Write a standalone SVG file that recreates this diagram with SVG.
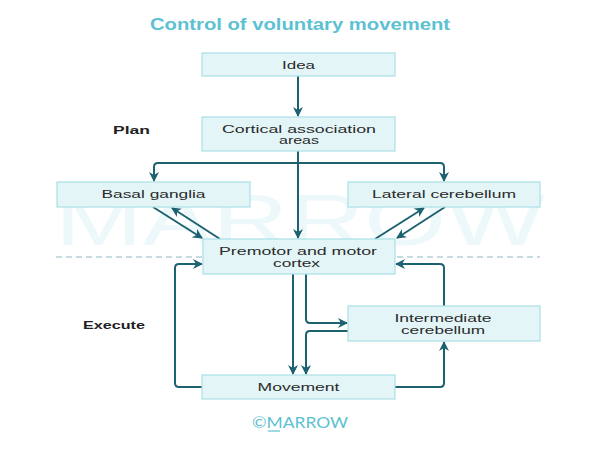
<svg xmlns="http://www.w3.org/2000/svg" width="600" height="451" viewBox="0 0 600 451">
<style>
.box{fill:#e3f5f7;stroke:#a9dfe6;stroke-width:1.2}
.t{font-family:"Liberation Sans",Arial,sans-serif;font-size:11.5px;fill:#2b2b2b;text-anchor:middle}
.lbl{font-family:"Liberation Sans",Arial,sans-serif;font-size:11px;font-weight:bold;fill:#222}
.c{fill:none;stroke:#1d6270;stroke-width:2}
</style>
<defs>
<marker id="ah" viewBox="0 0 10 10" refX="9" refY="5" markerWidth="5" markerHeight="5" orient="auto" markerUnits="strokeWidth">
<path d="M0,0 L10,5 L0,10 L3,5 Z" fill="#1d6270"/>
</marker>
</defs>
<rect width="600" height="451" fill="#ffffff"/>
<text x="55" y="245" font-family="Liberation Sans,Arial,sans-serif" font-size="72" fill="#edf8fa" textLength="490" lengthAdjust="spacingAndGlyphs">MARROW</text>
<text x="300" y="30" font-family="Liberation Sans,Arial,sans-serif" font-size="16" font-weight="bold" fill="#5cc1d2" text-anchor="middle" textLength="300" lengthAdjust="spacingAndGlyphs">Control of voluntary movement</text>
<text class="lbl" x="113" y="134" textLength="37" lengthAdjust="spacingAndGlyphs">Plan</text>
<text class="lbl" x="83" y="329" textLength="62" lengthAdjust="spacingAndGlyphs">Execute</text>
<line x1="56" y1="257" x2="203" y2="257" stroke="#8fb8c2" stroke-width="1.2" stroke-dasharray="6,4"/>
<line x1="397" y1="257" x2="540" y2="257" stroke="#8fb8c2" stroke-width="1.2" stroke-dasharray="6,4"/>
<g id="connectors">
<path class="c" d="M298,76 V116" marker-end="url(#ah)"/>
<path class="c" d="M298,151 V238" marker-end="url(#ah)"/>
<path class="c" d="M298,163 H158 Q154,163 154,167 V181" marker-end="url(#ah)"/>
<path class="c" d="M298,163 H440 Q444,163 444,167 V181" marker-end="url(#ah)"/>
<path class="c" d="M153,207 L202,238" marker-end="url(#ah)"/>
<path class="c" d="M220,239 L172,208" marker-end="url(#ah)"/>
<path class="c" d="M375,239 L424,208" marker-end="url(#ah)"/>
<path class="c" d="M445,207 L397,238" marker-end="url(#ah)"/>
<path class="c" d="M202,387 H179 Q175,387 175,383 V268 Q175,264 179,264 H202" marker-end="url(#ah)"/>
<path class="c" d="M395,387 H440 Q444,387 444,383 V342" marker-end="url(#ah)"/>
<path class="c" d="M444,306 V268 Q444,264 440,264 H396" marker-end="url(#ah)"/>
<path class="c" d="M293,274 V374" marker-end="url(#ah)"/>
<path class="c" d="M306,274 V319 Q306,323 310,323 H347" marker-end="url(#ah)"/>
<path class="c" d="M348,331 H310 Q306,331 306,335 V374" marker-end="url(#ah)"/>
</g>
<g id="idea"><rect class="box" x="202" y="53" width="193" height="23"/><text class="t" x="298.5" y="69" textLength="33" lengthAdjust="spacingAndGlyphs">Idea</text></g>
<g id="cortical"><rect class="box" x="202" y="117" width="193" height="34"/><text class="t" x="299" y="132.5" textLength="154" lengthAdjust="spacingAndGlyphs">Cortical association</text><text class="t" x="299" y="144" textLength="40" lengthAdjust="spacingAndGlyphs">areas</text></g>
<g id="basal"><rect class="box" x="57" y="182" width="193" height="25"/><text class="t" x="153.5" y="197.5" textLength="104" lengthAdjust="spacingAndGlyphs">Basal ganglia</text></g>
<g id="lateral"><rect class="box" x="348" y="182" width="192" height="25"/><text class="t" x="444" y="198" textLength="144" lengthAdjust="spacingAndGlyphs">Lateral cerebellum</text></g>
<g id="premotor"><rect class="box" x="203" y="239" width="192" height="35"/><text class="t" x="298" y="255" textLength="158" lengthAdjust="spacingAndGlyphs">Premotor and motor</text><text class="t" x="296.5" y="266.5" textLength="47" lengthAdjust="spacingAndGlyphs">cortex</text></g>
<g id="intermediate"><rect class="box" x="348" y="306" width="192" height="35"/><text class="t" x="443" y="322" textLength="97" lengthAdjust="spacingAndGlyphs">Intermediate</text><text class="t" x="443" y="334" textLength="84" lengthAdjust="spacingAndGlyphs">cerebellum</text></g>
<g id="movement"><rect class="box" x="202" y="375" width="193" height="24"/><text class="t" x="298.5" y="391" textLength="82" lengthAdjust="spacingAndGlyphs">Movement</text></g>
<text x="252" y="428" font-family="Lato,'Liberation Sans',sans-serif" font-size="15" fill="#5cc1d2" textLength="96" lengthAdjust="spacingAndGlyphs">©MARROW</text>
<line x1="268" y1="431" x2="280" y2="431" stroke="#5cc1d2" stroke-width="1.2"/>
</svg>
